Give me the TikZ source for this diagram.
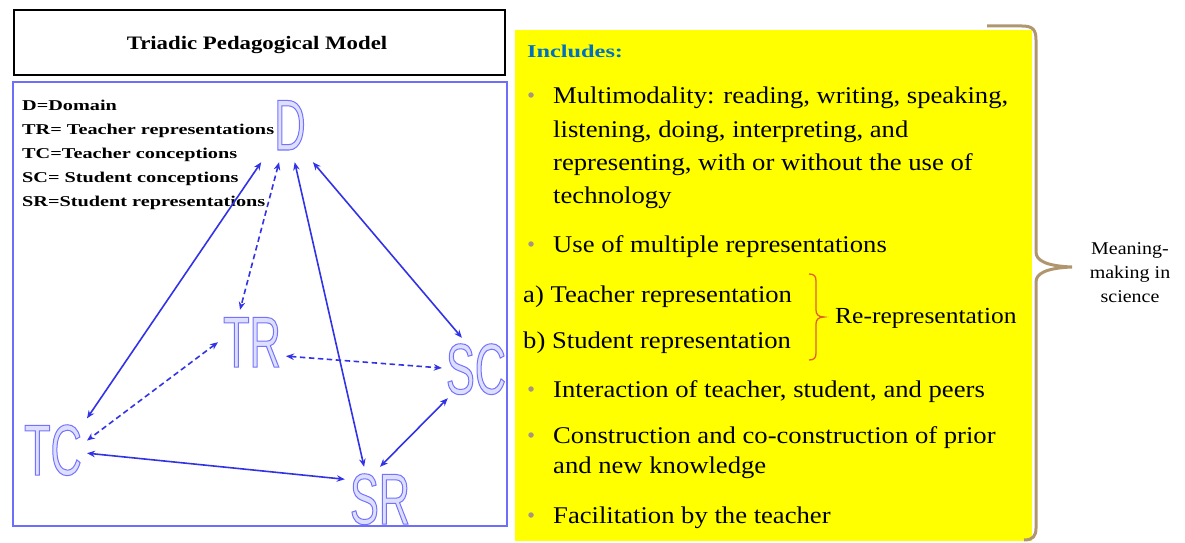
\documentclass[tikz,border=0pt]{standalone}
\usepackage{fontspec}
\setmainfont{Liberation Serif}
\newfontfamily\bodyfont[FakeStretch=1.11]{Liberation Serif}
\newfontfamily\legfont[FakeStretch=1.35]{Liberation Serif}
\newfontfamily\titlefont[FakeStretch=1.2]{Liberation Serif}
\newfontfamily\lettfont[FakeStretch=0.6]{Liberation Sans}
\usetikzlibrary{arrows.meta}
\definecolor{lineblue}{RGB}{50,50,230}
\definecolor{boxblue}{RGB}{110,110,250}
\definecolor{incblue}{RGB}{0,112,192}
\definecolor{bulgray}{RGB}{165,150,125}
\definecolor{bracetan}{RGB}{175,150,110}
\definecolor{bracered}{RGB}{225,95,40}
\definecolor{boxyellow}{RGB}{255,255,0}
\newcommand{\outl}[1]{\special{pdf:literal direct 2 Tr 1 w 0.87 0.87 1 rg 0.45 0.45 1 RG}#1\special{pdf:literal direct 0 Tr}}
\tikzset{
  letter/.style={inner sep=5pt, text height=52pt, text depth=0pt, text=boxblue,
    font=\lettfont\fontsize{72}{72}\selectfont},
  conn/.style={lineblue, line width=1.6pt, {Stealth[length=8pt,width=6.5pt]}-{Stealth[length=8pt,width=6.5pt]}},
  dconn/.style={conn, dash pattern=on 5.5pt off 3.5pt},
  legend/.style={anchor=base west, inner sep=0pt, font=\legfont\bfseries\fontsize{15}{15}\selectfont},
  body/.style={anchor=base west, inner sep=0pt, font=\bodyfont\fontsize{24}{24}\selectfont},
  bullet/.style={circle, fill=bulgray, inner sep=0pt, minimum size=5.5pt},
}
\begin{document}
\begin{tikzpicture}[x=1pt,y=-1pt]
\useasboundingbox (0,0) rectangle (1185,543);
% title
\node[draw=black, line width=1.6pt, minimum width=491pt, minimum height=65pt, inner sep=0pt] (titlebox) at (259.5,42.5) {};
\node[anchor=base, inner sep=0pt, font=\titlefont\bfseries\fontsize{19}{19}\selectfont] (title) at (257,50) {Triadic Pedagogical Model};
% frame
\node[draw=boxblue, line width=1.6pt, minimum width=494pt, minimum height=444pt, inner sep=0pt] (frame) at (260,304) {};
% legend
\node[legend] (l1) at (22,110) {D=Domain};
\node[legend] (l2) at (22,134) {TR= Teacher representations};
\node[legend] (l3) at (22,158) {TC=Teacher conceptions};
\node[legend] (l4) at (22,182) {SC= Student conceptions};
\node[legend] (l5) at (22,206) {SR=Student representations};
% letters
\node[letter, inner xsep=15pt, inner ysep=12pt] (D) at (290,124) {\outl{D}};
\node[letter] (TR) at (252,341) {\outl{TR}};
\node[letter, inner sep=4pt] (SC) at (476,368) {\outl{SC}};
\node[letter] (TC) at (53,449) {\outl{TC}};
\node[letter] (SR) at (380,498) {\outl{SR}};
% connectors
\draw[conn] (D.233) -- (TC.42);
\draw[dconn] (D.254) -- (TR.111);
\draw[conn] (D.277.5) -- (SR.117);
\draw[conn] (D.301) -- (SC.115);
\draw[dconn] (TR.182) -- (TC.14);
\draw[dconn] (TR.336) -- (SC.180);
\draw[conn] (TC.353) -- (SR.152);
\draw[conn] (SC.227) -- (SR.90);
% yellow box
\node[fill=boxyellow, minimum width=517pt, minimum height=511pt, inner sep=0pt] (ybox) at (773.5,285.5) {};
\node[anchor=base west, inner sep=0pt, text=incblue, font=\legfont\bfseries\fontsize{18}{18}\selectfont] (inc) at (527,58) {Includes:};
\node[bullet] (b1) at (531,95) {};
\node[body] (t1) at (553,103) {Multimodality: reading, writing, speaking,};
\node[body] (t2) at (553,137) {listening, doing, interpreting, and};
\node[body] (t3) at (553,170) {representing, with or without the use of};
\node[body] (t4) at (553,203) {technology};
\node[bullet] (b2) at (531,244) {};
\node[body] (t5) at (553,252) {Use of multiple representations};
\node[body] (t6) at (523,302) {a) Teacher representation};
\node[body] (t7) at (523,348) {b) Student representation};
\node[body, font=\bodyfont\fontsize{23}{23}\selectfont] (t8) at (835,323) {Re-representation};
\node[bullet] (b3) at (531,389) {};
\node[body] (t9) at (553,397) {Interaction of teacher, student, and peers};
\node[bullet] (b4) at (531,435) {};
\node[body] (t10) at (553,443) {Construction and co-construction of prior};
\node[body] (t11) at (553,473) {and new knowledge};
\node[bullet] (b5) at (531,515) {};
\node[body] (t12) at (553,523) {Facilitation by the teacher};
% red bracket
\draw[bracered, line width=1.3pt] (809,274) .. controls (814,274) and (816,276) .. (816,281) -- (816,310)
  .. controls (816,314) and (818,317) .. (824,317) .. controls (818,317) and (816,320) .. (816,324)
  -- (816,353) .. controls (816,358) and (814,360) .. (809,360);
% big brace
\draw[bracetan, line width=3pt] (987,26) -- (1022,26) .. controls (1033,26) and (1036,30) .. (1036,40)
  -- (1036,252) .. controls (1036,260) and (1045,266) .. (1072,267)
  .. controls (1045,268) and (1036,274) .. (1036,282)
  -- (1036,528) .. controls (1036,536) and (1033,540) .. (1024,540);
% meaning-making
\node[anchor=center, inner sep=0pt, align=center, font=\bodyfont\fontsize{18}{24}\selectfont] (mm) at (1130,273) {Meaning-\\making in\\science};
\end{tikzpicture}
\end{document}
